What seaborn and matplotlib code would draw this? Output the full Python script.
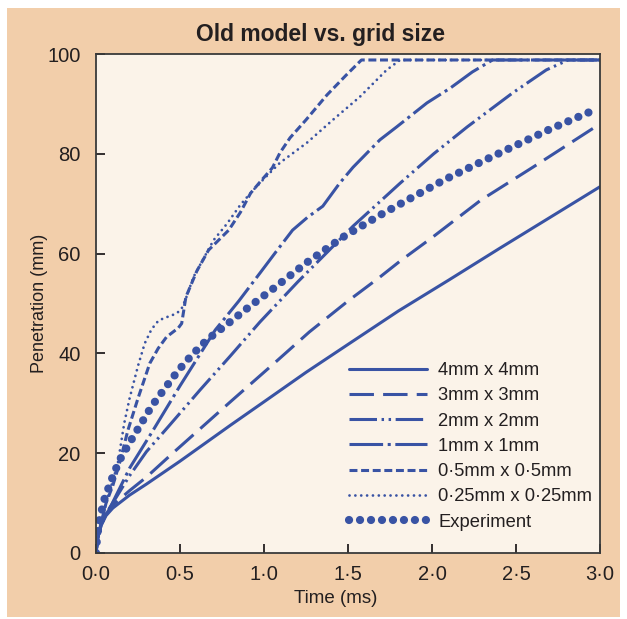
import pandas as pd
import matplotlib
matplotlib.use("Agg")
import matplotlib.pyplot as plt
from matplotlib.patches import Rectangle
import seaborn as sns

# values (time in ms, penetration in mm)
t_4mm = [0, 0.01, 0.03, 0.06, 0.1, 0.2, 0.3, 0.4, 0.5, 0.6, 0.8, 1.0, 1.25, 1.5, 1.8, 2.1, 2.4, 2.7, 3.0]
p_4mm = [0, 3, 5.5, 7.5, 9.0, 11.6, 13.8, 16.1, 18.4, 20.8, 25.6, 30.3, 36.2, 41.8, 48.5, 54.7, 61, 67.2, 73.4]

t_3mm = [0, 0.01, 0.03, 0.06, 0.09, 0.2, 0.3, 0.45, 0.6, 0.8, 1.07, 1.27, 1.5, 1.69, 1.81, 2.0, 2.29, 2.6, 3.0]
p_3mm = [0, 3, 5.5, 7.8, 9.3, 12.5, 15.2, 19.8, 24.3, 30.3, 38.3, 44.3, 50.5, 55.3, 58.5, 63.2, 70.7, 77.3, 86]

t_2mm = [0, 0.01, 0.03, 0.06, 0.09, 0.2, 0.3, 0.43, 0.62, 0.8, 0.976, 1.2, 1.53, 1.81, 2.01, 2.21, 2.48, 2.68, 2.81, 3.0]
p_2mm = [0, 3, 5.5, 7.8, 9.5, 15.5, 20.3, 25.3, 32.7, 39.5, 46.3, 54.3, 65.5, 74.1, 80, 85.4, 92.2, 96.8, 98.8, 98.8]

t_1mm = [0, 0.01, 0.03, 0.06, 0.09, 0.2, 0.34, 0.5, 0.71, 0.85, 0.976, 1.07, 1.17, 1.26, 1.35, 1.45, 1.53,
         1.69, 1.79, 1.97, 2.11, 2.24, 2.36, 3.0]
p_1mm = [0, 3, 5.5, 7.8, 9.5, 17, 24.6, 33.5, 44.7, 50.5, 56.1, 60.3, 64.7, 67.3, 69.5, 74.1, 77.3,
         82.8, 85.4, 90.2, 93.2, 96.4, 98.8, 98.8]

t_05mm = [0, 0.01, 0.03, 0.06, 0.1, 0.14, 0.19, 0.25, 0.32, 0.37, 0.42, 0.49, 0.51, 0.535, 0.6, 0.67, 0.73,
          0.79, 0.86, 0.92, 0.98, 1.05, 1.095, 1.155, 1.25, 1.375, 1.49, 1.58, 3.0]
p_05mm = [0, 3, 6, 10, 13.5, 18, 24.6, 31, 38, 41, 43.3, 45.1, 46, 51.3, 56.5, 60.7, 62.7,
          64.7, 68.3, 72.1, 74.5, 77.2, 80.2, 83.2, 86.8, 91.8, 95.8, 98.8, 98.8]

t_025mm = [0, 0.01, 0.03, 0.06, 0.1, 0.13, 0.168, 0.2, 0.25, 0.29, 0.33, 0.37, 0.4, 0.48, 0.51, 0.535, 0.58,
           0.64, 0.70, 0.78, 0.86, 0.935, 1.0, 1.095, 1.255, 1.41, 1.57, 1.73, 1.81, 3.0]
p_025mm = [0, 3, 6, 10, 14.5, 18, 26, 31, 37.5, 42, 44.8, 46.5, 47, 48, 49, 51, 55.3,
           59, 62.7, 66, 69.8, 72.7, 75, 78.2, 82.2, 86.8, 91.4, 96.8, 98.8, 98.8]

t_exp = [0, 0.005, 0.018, 0.048, 0.089, 0.137, 0.202, 0.268, 0.333, 0.41, 0.488, 0.571, 0.66, 0.76, 0.91,
         1.06, 1.25, 1.47, 1.69, 1.9, 2.08, 2.3, 2.48, 2.7, 2.94]
p_exp = [0, 2.5, 6.2, 10.6, 14.4, 18.4, 22.2, 25.9, 29.5, 33, 36.5, 39.7, 42.7, 45.3, 49.3,
         53.1, 58.1, 63.3, 67.7, 71.6, 74.9, 78.5, 81.4, 84.9, 88.4]

labels = ["4mm x 4mm", "3mm x 3mm", "2mm x 2mm", "1mm x 1mm",
          "0·5mm x 0·5mm", "0·25mm x 0·25mm", "Experiment"]
x_ticks = [0, 0.5, 1.0, 1.5, 2.0, 2.5, 3.0]
x_tick_labels = ["0·0", "0·5", "1·0", "1·5", "2·0", "2·5", "3·0"]
y_ticks = [0, 20, 40, 60, 80, 100]

blue = "#3953a4"
tan = "#f2ceaa"
cream = "#fbf3e9"
ink = "#231f20"

sns.set_theme(style="ticks")
plt.rcParams["font.family"] = ["Liberation Sans Narrow", "DejaVu Sans Condensed",
                               "Liberation Sans", "DejaVu Sans"]

fig = plt.figure(figsize=(6.27, 6.19), dpi=100, facecolor="white")
fig.patches.append(Rectangle((7 / 627, 2 / 619), 613 / 627, 609 / 619,
                             transform=fig.transFigure, facecolor=tan,
                             edgecolor="none", zorder=-10))
ax = fig.add_axes([96 / 627, 1 - 553 / 619, 504 / 627, 499 / 619])
ax.set_facecolor(cream)

series = [
    (t_4mm, p_4mm, dict(linewidth=2.2, linestyle="-")),
    (t_3mm, p_3mm, dict(linewidth=2.2, linestyle=(0, (8, 3)))),
    (t_2mm, p_2mm, dict(linewidth=2.2, linestyle=(0, (9, 1.5, 0.8, 1.5, 0.8, 1.5)))),
    (t_1mm, p_1mm, dict(linewidth=2.2, linestyle=(0, (11, 1.5, 1, 1.5)))),
    (t_05mm, p_05mm, dict(linewidth=2.2, linestyle=(0, (2.6, 1.2)))),
    (t_025mm, p_025mm, dict(linewidth=2.0, linestyle=(0, (0.01, 2.1)), dash_capstyle="round")),
    (t_exp, p_exp, dict(linewidth=5.9, linestyle=(0, (0.01, 1.33)), dash_capstyle="round")),
]

for (t, p, style), lab in zip(series, labels):
    df = pd.DataFrame({"t": t, "p": p})
    sns.lineplot(data=df, x="t", y="p", ax=ax, color=blue, label=lab,
                 errorbar=None, sort=False, **style)

ax.set_xlim(0, 3.0)
ax.set_ylim(0, 100)
ax.set_xticks(x_ticks)
ax.set_xticklabels(x_tick_labels)
ax.set_yticks(y_ticks)
ax.tick_params(direction="in", length=6.5, width=1.3, colors=ink, labelsize=14.5)
ax.tick_params(axis="x", pad=9)
ax.tick_params(axis="y", pad=11)
for s in ax.spines.values():
    s.set_color("#3a3a3a")
    s.set_linewidth(1.3)

ax.set_xlabel("Time (ms)", fontsize=13.5, color=ink)
ax.set_ylabel("Penetration (mm)", fontsize=13, color=ink)
ax.xaxis.set_label_coords(0.476, -0.075)
ax.yaxis.set_label_coords(-0.095, 0.5)

fig.text(320 / 627, 1 - 34 / 619, "Old model vs. grid size", fontsize=16.5,
         fontweight="bold", color=ink, ha="center", va="center")

ax.legend(loc="lower right", bbox_to_anchor=(0.985, 0.045), frameon=False,
          fontsize=13.2, handlelength=4.3, handletextpad=0.6, labelspacing=0.45,
          borderaxespad=0, borderpad=0, labelcolor=ink)

fig.savefig("out.png", dpi=100, facecolor="white")
